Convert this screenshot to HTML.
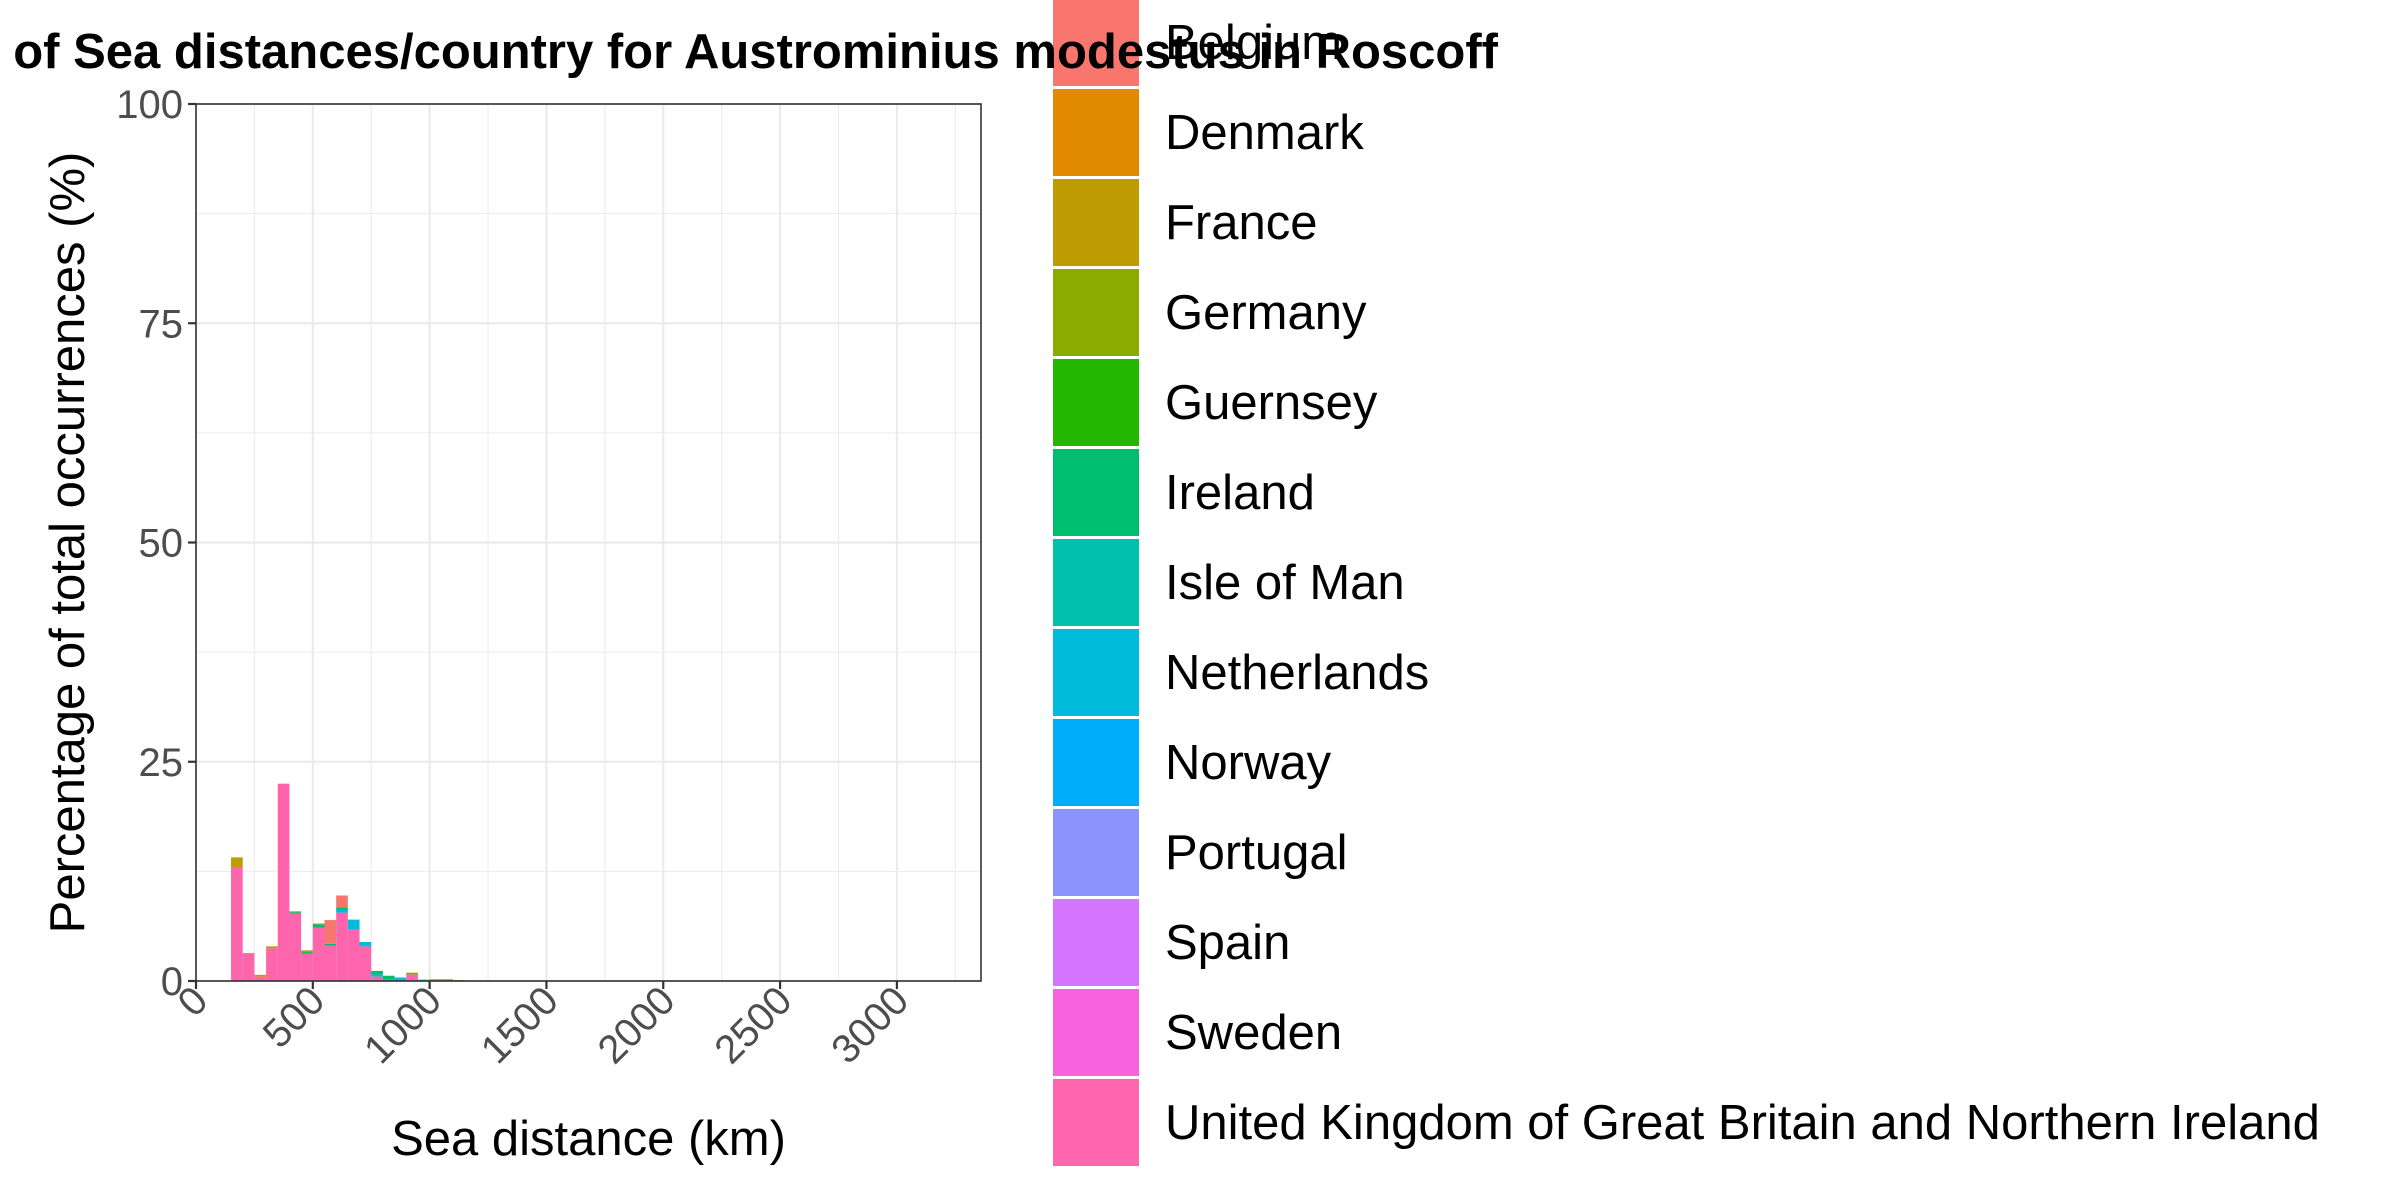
<!DOCTYPE html>
<html><head><meta charset="utf-8"><style>body{margin:0;background:#fff}svg{display:block}text{font-family:"Liberation Sans",sans-serif}</style></head>
<body>
<svg id="c" width="2400" height="1200" xmlns="http://www.w3.org/2000/svg"></svg>
<script>
const countries=["Belgium","Denmark","France","Germany","Guernsey","Ireland","Isle of Man","Netherlands","Norway","Portugal","Spain","Sweden","United Kingdom of Great Britain and Northern Ireland"];
const colors=["#F8766D","#E18A00","#BE9C00","#8CAB00","#24B700","#00BE70","#00C1AB","#00BBDA","#00ACFC","#8B93FF","#D575FE","#F962DD","#FF65AC"];
const binStarts=[150,200,250,300,350,400,450,500,550,600,650,700,750,800,850,900,950,1000,1050,1100];
const ukVals=[13.0,3.1,0.5,3.75,22.5,7.7,3.1,6.1,4.05,7.8,5.85,3.95,0.5,0,0,0.75,0,0,0,0];
const netherlandsVals=[0,0,0,0,0,0,0,0,0,0.3,1.15,0.5,0.25,0.15,0.4,0,0,0,0,0];
const irelandVals=[0,0,0,0,0,0.15,0.2,0.35,0.2,0.3,0,0,0.4,0.45,0,0,0.15,0,0,0];
const germanyVals=[0,0,0,0,0,0,0,0.1,0,0,0,0,0,0,0,0.2,0,0.2,0.2,0.1];
const franceVals=[1.1,0.1,0.2,0.2,0,0.1,0.2,0,0,0,0,0,0,0,0,0,0,0,0,0];
const belgiumVals=[0,0,0,0,0,0,0,0,2.7,1.35,0,0,0,0,0,0,0,0,0,0];
const xTicks=[0,500,1000,1500,2000,2500,3000];
const yTicks=[0,25,50,75,100];
const binWidth=50;
const stackOrder=[[12,ukVals],[7,netherlandsVals],[5,irelandVals],[3,germanyVals],[2,franceVals],[0,belgiumVals]];

const L=196,R=981,T=104,B=981;
const X=v=>L+v*(R-L)/3360;
const Y=v=>B-v*(B-T)/100;
const svg=document.getElementById('c');
const NS="http://www.w3.org/2000/svg";
function mk(t,a,p){const e=document.createElementNS(NS,t);for(const k in a)e.setAttribute(k,a[k]);(p||svg).appendChild(e);return e;}

for(let v=250;v<3360;v+=500){const g=mk('line',{x1:X(v),x2:X(v),y1:T,y2:B,stroke:'#ebebeb','stroke-width':1.1});
}
for(let v=12.5;v<100;v+=25){const g=mk('line',{x1:L,x2:R,y1:Y(v),y2:Y(v),stroke:'#ebebeb','stroke-width':1.1});
}
xTicks.forEach(v=>{const g=mk('line',{x1:X(v),x2:X(v),y1:T,y2:B,stroke:'#ebebeb','stroke-width':2.2});
});
yTicks.forEach(v=>{const g=mk('line',{x1:L,x2:R,y1:Y(v),y2:Y(v),stroke:'#ebebeb','stroke-width':2.2});
});

binStarts.forEach((b,i)=>{let acc=0;
 stackOrder.forEach(([ci,arr])=>{const v=arr[i];if(!v)return;
  const r=mk('rect',{x:X(b),width:X(b+binWidth)-X(b),y:Y(acc+v),height:Y(acc)-Y(acc+v),fill:colors[ci]});
  
  
  acc+=v;});
});

const border=mk('rect',{x:L,y:T,width:R-L,height:B-T,fill:'none',stroke:'#333','stroke-width':1.6});


yTicks.forEach(v=>{const t=mk('line',{x1:L-8,x2:L,y1:Y(v),y2:Y(v),stroke:'#333','stroke-width':2.2});

const l=mk('text',{x:L-13,y:Y(v)+14,'text-anchor':'end','font-size':40,fill:'#4d4d4d'});l.textContent=v;
});
xTicks.forEach(v=>{const t=mk('line',{x1:X(v),x2:X(v),y1:B,y2:B+8,stroke:'#333','stroke-width':2.2});

const l=mk('text',{x:X(v)+14,y:B+22,'text-anchor':'end','font-size':40,fill:'#4d4d4d',transform:`rotate(-45 ${X(v)+14} ${B+22})`});l.textContent=v;
});

const xt=mk('text',{x:(L+R)/2,y:1155,'text-anchor':'middle','font-size':49});xt.textContent='Sea distance (km)';

const yt=mk('text',{x:0,y:0,'text-anchor':'middle','font-size':49,transform:`translate(84 ${(T+B)/2}) rotate(-90)`});yt.textContent='Percentage of total occurrences (%)';


countries.forEach((c,i)=>{const top=-1+i*90;
 const k=mk('rect',{x:1053,y:top,width:86,height:87,fill:colors[i]});
 
 const l=mk('text',{x:1165,y:top+60,'font-size':49});l.textContent=c;
 });

const tt=mk('text',{x:1498,y:68,'text-anchor':'end','font-size':49,'font-weight':'bold'});
tt.textContent='Histogram of Sea distances/country for Austrominius modestus in Roscoff';

</script>
</body></html>
